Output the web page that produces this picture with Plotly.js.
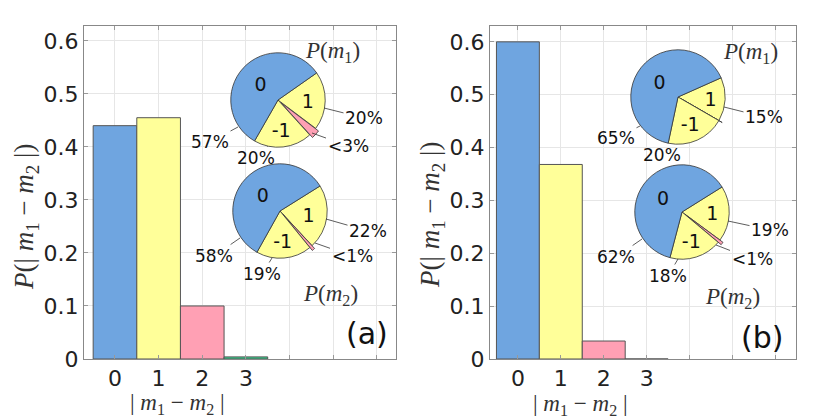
<!DOCTYPE html>
<html>
<head>
<meta charset="utf-8">
<script src="https://cdn.plot.ly/plotly-3.0.1.min.js"></script>
<style>
  html, body { margin: 0; padding: 0; background: #fff; }
  #chart { width: 830px; height: 419px; }
</style>
</head>
<body>
<div id="chart"></div>
<script>
// |m1 - m2| distributions
const diffCats = [0, 1, 2, 3];
const probA = [0.44, 0.455, 0.10, 0.004];
const probB = [0.60, 0.368, 0.034, 0];
const barColors = ['#6fa5e0', '#ffff99', '#ffa0b4', '#33cc88'];

// pie slices, clockwise from upper right
const pieLabels = ['1', '2', '-1', '0'];
const pieColors = ['#ffff99', '#ffa0b4', '#ffff99', '#6fa5e0'];
const pieA1 = [20, 3, 20, 57];
const pctA1 = ['20%', '<3%', '20%', '57%'];
const pieA2 = [22, 1, 19, 58];
const pctA2 = ['22%', '<1%', '19%', '58%'];
const pieB1 = [15, 0, 20, 65];
const pctB1 = ['15%', '', '20%', '65%'];
const pieB2 = [19, 1, 18, 62];
const pctB2 = ['19%', '<1%', '18%', '62%'];

const W = 830, H = 419;
const PIE_D = 102;   // domain size, pie shrinks a bit for the pull
const tickFont = {family: 'DejaVu Sans', size: 22, color: '#222'};
const serif = 'Liberation Serif, DejaVu Serif, serif';

// where the percent labels sit around each pie: [text dx, dy, leader dx, dy] from centre
const pctSpots = {
    A1: [[86, 18, 46, 8], [70, 46, 34, 33], [-22, 58, -10, 46], [-68, 42, -40, 27]],
    A2: [[88, 20, 46, 8], [72, 45, 35, 32], [-18, 63, -8, 47], [-66, 45, -40, 27]],
    B1: [[86, 20, 46, 10], null, [-16, 58, -6, 47], [-62, 41, -38, 29]],
    B2: [[88, 18, 46, 9], [70, 47, 34, 33], [-14, 64, -4, 47], [-66, 45, -40, 27]]
};

function barTrace(vals, xa, ya) {
    return {
        type: 'bar', x: diffCats, y: vals, xaxis: xa, yaxis: ya,
        width: 1,
        marker: {color: barColors, line: {color: '#555', width: 1}},
        hoverinfo: 'skip'
    };
}

function pieDomain(cx, cy, d) {
    return {
        x: [(cx - d / 2) / W, (cx + d / 2) / W],
        y: [1 - (cy + d / 2) / H, 1 - (cy - d / 2) / H]
    };
}

function pieTrace(vals, cx, cy, rot) {
    return {
        type: 'pie', labels: pieLabels, values: vals, sort: false,
        direction: 'clockwise', rotation: rot, domain: pieDomain(cx, cy, PIE_D),
        pull: [0, 0.08, 0, 0], showlegend: false, hoverinfo: 'skip',
        marker: {colors: pieColors, line: {color: '#333', width: 0.8}},
        textinfo: 'label',
        textposition: ['inside', 'none', 'inside', 'inside'],
        insidetextorientation: 'horizontal',
        insidetextfont: {family: 'DejaVu Sans', size: 19, color: '#111'}
    };
}

function pctNotes(pct, spots, cx, cy) {
    const out = [];
    pct.forEach((t, i) => {
        const s = spots[i];
        if (!t || !s) return;
        out.push({
            text: t, xref: 'paper', yref: 'paper',
            x: (cx + s[2]) / W, y: 1 - (cy + s[3]) / H,
            ax: s[0] - s[2], ay: s[1] - s[3],
            showarrow: true, arrowhead: 0, arrowwidth: 0.8, arrowcolor: '#333',
            standoff: 0, borderpad: 1,
            font: {family: 'DejaVu Sans', size: 17, color: '#111'}
        });
    });
    return out;
}

const pies = [
    {vals: pieA1, pct: pctA1, spots: pctSpots.A1, cx: 278, cy: 100, rot: 55},
    {vals: pieA2, pct: pctA2, spots: pctSpots.A2, cx: 280, cy: 211, rot: 58},
    {vals: pieB1, pct: pctB1, spots: pctSpots.B1, cx: 678, cy: 97, rot: 66},
    {vals: pieB2, pct: pctB2, spots: pctSpots.B2, cx: 682, cy: 212, rot: 58}
];

const data = [
    barTrace(probA, 'x', 'y'),
    barTrace(probB, 'x2', 'y2'),
    ...pies.map(p => pieTrace(p.vals, p.cx, p.cy, p.rot))
];

function xAxis(dom, range) {
    return {
        domain: dom, range: range,
        tickvals: [0, 1, 2, 3, 4, 5, 6], ticktext: ['0', '1', '2', '3', '', '', ''],
        ticks: 'inside', ticklen: 4, tickcolor: '#999',
        showline: true, linecolor: '#888', mirror: 'ticks',
        showgrid: true, gridcolor: '#e6e6e6', zeroline: false,
        tickfont: tickFont, fixedrange: true
    };
}

function yAxis(range, anchor) {
    return {
        domain: [0.1432, 0.938], range: range, anchor: anchor,
        dtick: 0.1, ticks: 'inside', ticklen: 4, tickcolor: '#999',
        showline: true, linecolor: '#888', mirror: 'ticks',
        showgrid: true, gridcolor: '#e6e6e6', zeroline: false,
        tickfont: tickFont, fixedrange: true
    };
}

const yTitle = '<i>P</i>(| <i>m</i><sub>1</sub> − <i>m</i><sub>2</sub> |)';
const xTitle = '| <i>m</i><sub>1</sub> − <i>m</i><sub>2</sub> |';

function note(text, x, y, size, angle, family) {
    return {
        text: text, x: x / W, y: 1 - y / H, xref: 'paper', yref: 'paper',
        xanchor: 'center', yanchor: 'middle',
        showarrow: false, textangle: angle || 0,
        font: {family: family || serif, size: size, color: family ? '#111' : '#333'}
    };
}

const layout = {
    width: W, height: H,
    margin: {l: 0, r: 0, t: 0, b: 0},
    paper_bgcolor: '#fff', plot_bgcolor: '#fff',
    showlegend: false, bargap: 0,
    xaxis: xAxis([84 / W, 396 / W], [-0.71, 6.44]),
    yaxis: yAxis([0, 0.628], 'x'),
    xaxis2: {...xAxis([490 / W, 796 / W], [-0.65, 6.48]), anchor: 'y2'},
    yaxis2: yAxis([0, 0.63], 'x2'),
    annotations: [
        note(yTitle, 26, 217, 27, -90),
        note(xTitle, 177, 404, 23),
        note(yTitle, 432, 215, 27, -90),
        note(xTitle, 580, 405, 23),
        note('<i>P</i>(<i>m</i><sub>1</sub>)', 332, 52, 23),
        note('<i>P</i>(<i>m</i><sub>2</sub>)', 330, 295, 23),
        note('<i>P</i>(<i>m</i><sub>1</sub>)', 750, 53, 23),
        note('<i>P</i>(<i>m</i><sub>2</sub>)', 732, 298, 23),
        note('(a)', 367, 333, 30, 0, 'DejaVu Sans'),
        note('(b)', 762, 337, 30, 0, 'DejaVu Sans'),
        ...pies.flatMap(p => pctNotes(p.pct, p.spots, p.cx, p.cy))
    ]
};

Plotly.newPlot('chart', data, layout, {displayModeBar: false, staticPlot: true});
</script>
</body>
</html>
